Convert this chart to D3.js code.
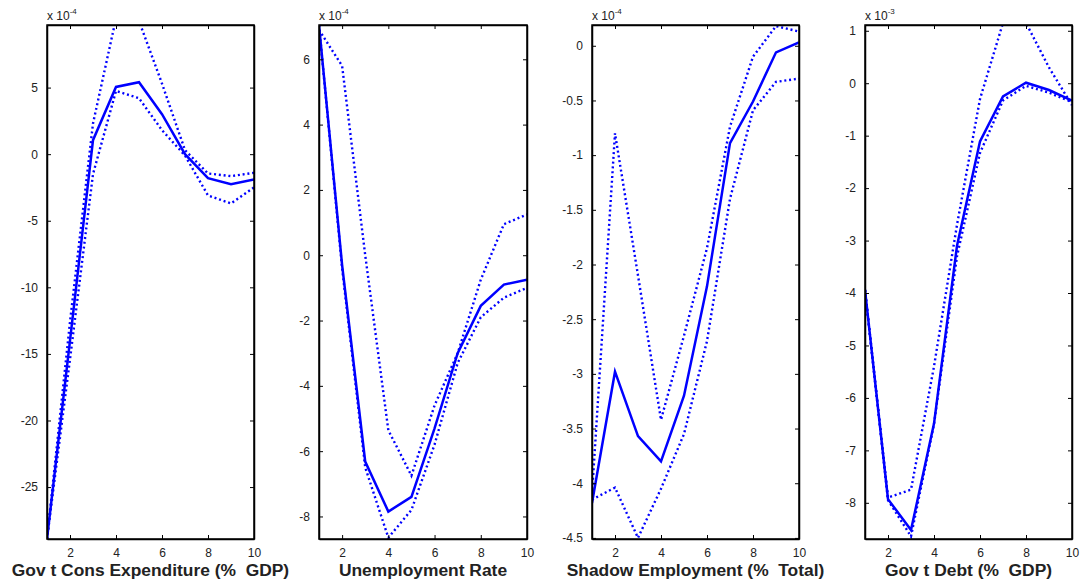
<!DOCTYPE html>
<html>
<head>
<meta charset="utf-8">
<script src="https://cdn.jsdelivr.net/npm/d3@7"></script>
<style>
  body { margin: 0; background: #fff; }
  text { font-family: "Liberation Sans", Arial, sans-serif; fill: #222; }
</style>
</head>
<body>
<div id="chart"></div>
<script>
// horizons 1..10
var steps = [1, 2, 3, 4, 5, 6, 7, 8, 9, 10];

// Govt Cons Expenditure (x 1e-4)
var govCons = [-28.9, -14.0, 1.05, 5.05, 5.4, 3.0, 0.0, -1.8, -2.25, -1.9];
var govConsHi = [-28.9, -12.6, 2.3, 10.2, 10.0, 5.3, 0.3, -1.45, -1.65, -1.4];
var govConsLo = [-28.9, -15.4, -1.5, 4.75, 4.2, 1.8, -0.1, -3.1, -3.7, -2.5];

// Unemployment Rate (x 1e-4)
var unemp = [7.05, -0.3, -6.32, -7.85, -7.4, -5.3, -3.0, -1.55, -0.9, -0.75];
var unempHi = [6.9, 5.8, 0.0, -5.36, -6.75, -4.6, -3.0, -0.75, 0.95, 1.25];
var unempLo = [7.05, -0.4, -6.5, -8.65, -7.8, -5.8, -3.3, -1.9, -1.3, -1.0];

// Shadow Employment (x 1e-4)
var shadow = [-4.18, -2.98, -3.57, -3.80, -3.2, -2.2, -0.89, -0.51, -0.06, 0.03];
var shadowHi = [-4.1, -0.80, -2.1, -3.42, -2.65, -1.85, -0.74, -0.1, 0.18, 0.13];
var shadowLo = [-4.15, -4.04, -4.5, -4.05, -3.55, -2.7, -1.4, -0.59, -0.33, -0.30];

// Govt Debt (x 1e-3)
var debt = [-3.94, -7.93, -8.52, -6.49, -3.1, -1.11, -0.25, 0.01, -0.13, -0.33];
var debtHi = [-3.94, -7.9, -7.75, -5.4, -2.7, -0.3, 1.15, 1.15, 0.3, -0.42];
var debtLo = [-3.94, -7.95, -8.64, -6.5, -3.3, -1.33, -0.33, -0.05, -0.18, -0.36];

var panels = [
  { title: "Gov t Cons Expenditure (%  GDP)", exp: "-4", left: 47, right: 254,
    domain: [-28.9, 9.7], ticks: [5, 0, -5, -10, -15, -20, -25],
    mid: govCons, hi: govConsHi, lo: govConsLo },
  { title: "Unemployment Rate", exp: "-4", left: 319, right: 527,
    domain: [-8.69, 7.05], ticks: [6, 4, 2, 0, -2, -4, -6, -8],
    mid: unemp, hi: unempHi, lo: unempLo },
  { title: "Shadow Employment (%  Total)", exp: "-4", left: 592, right: 799,
    domain: [-4.51, 0.19], ticks: [0, -0.5, -1, -1.5, -2, -2.5, -3, -3.5, -4, -4.5],
    mid: shadow, hi: shadowHi, lo: shadowLo },
  { title: "Gov t Debt (%  GDP)", exp: "-3", left: 865, right: 1072,
    domain: [-8.69, 1.11], ticks: [1, 0, -1, -2, -3, -4, -5, -6, -7, -8],
    mid: debt, hi: debtHi, lo: debtLo }
];

var svgWidth = 1088;
var svgHeight = 585;
var plotTop = 25, plotBottom = 539;

var svg = d3.select("#chart")
  .append("svg")
  .attr("width", svgWidth)
  .attr("height", svgHeight);

panels.forEach(function (p, i) {
  var x = d3.scaleLinear().domain([1, 10]).range([p.left, p.right]);
  var y = d3.scaleLinear().domain(p.domain).range([plotBottom, plotTop]);

  var g = svg.append("g");

  svg.append("clipPath").attr("id", "clip" + i)
    .append("rect")
    .attr("x", p.left).attr("y", plotTop)
    .attr("width", p.right - p.left).attr("height", plotBottom - plotTop);

  var line = d3.line().x(function (d, j) { return x(steps[j]); }).y(function (d) { return y(d); });

  var lines = g.append("g").attr("clip-path", "url(#clip" + i + ")");
  [p.hi, p.lo].forEach(function (s) {
    lines.append("path")
      .attr("d", line(s))
      .attr("fill", "none")
      .attr("stroke", "#0000ff")
      .attr("stroke-width", 2.4)
      .attr("stroke-dasharray", "2,2.8");
  });
  lines.append("path")
    .attr("d", line(p.mid))
    .attr("fill", "none")
    .attr("stroke", "#0000ff")
    .attr("stroke-width", 2.5);

  // axes (inward ticks on all sides)
  g.append("g").attr("transform", "translate(0," + plotBottom + ")")
    .call(d3.axisBottom(x).tickValues([2, 4, 6, 8, 10]).tickSizeInner(-4).tickSizeOuter(0).tickPadding(9));
  g.append("g").attr("transform", "translate(0," + plotTop + ")")
    .call(d3.axisTop(x).tickValues([2, 4, 6, 8, 10]).tickSizeInner(-4).tickSizeOuter(0).tickFormat(""));
  g.append("g").attr("transform", "translate(" + p.left + ",0)")
    .call(d3.axisLeft(y).tickValues(p.ticks).tickSizeInner(-4).tickSizeOuter(0).tickPadding(9)
      .tickFormat(function (d) { return String(d); }));
  g.append("g").attr("transform", "translate(" + p.right + ",0)")
    .call(d3.axisRight(y).tickValues(p.ticks).tickSizeInner(-4).tickSizeOuter(0).tickFormat(""));

  g.selectAll(".domain").attr("stroke", "#000").attr("stroke-width", 1.5);
  g.selectAll(".tick line").attr("stroke", "#000");
  g.selectAll(".tick text").attr("font-size", 12).attr("font-family", "Liberation Sans, Arial, sans-serif").attr("fill", "#222");

  g.append("rect")
    .attr("x", p.left).attr("y", plotTop)
    .attr("width", p.right - p.left).attr("height", plotBottom - plotTop)
    .attr("fill", "none").attr("stroke", "#000").attr("stroke-width", 1.5);

  // exponent label
  var ex = g.append("text").attr("x", p.left).attr("y", 20).attr("font-size", 12);
  ex.append("tspan").text("x 10");
  ex.append("tspan").attr("font-size", 8).attr("dy", -6).text(p.exp);

  // x title
  g.append("text")
    .attr("x", (p.left + p.right) / 2)
    .attr("y", 576)
    .attr("text-anchor", "middle")
    .attr("font-size", 17.4)
    .attr("font-weight", "bold")
    .attr("fill", "#000")
    .style("white-space", "pre")
    .text(p.title);
});
</script>
</body>
</html>
